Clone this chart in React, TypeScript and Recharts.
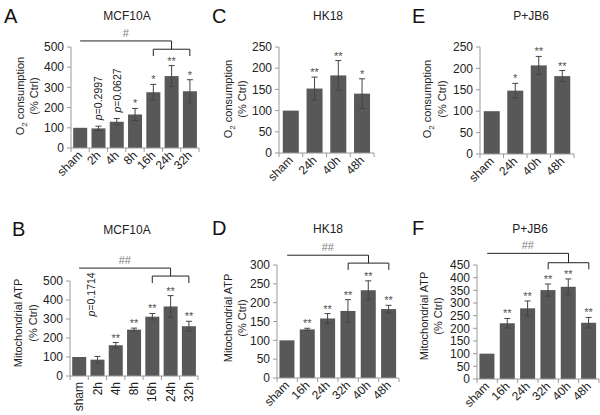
import React from "react"
import { BarChart, Bar, XAxis, YAxis, ErrorBar, ReferenceLine } from "recharts"

// A: MCF10A O2 consumption
const mcfO2Cats = ["sham", "2h", "4h", "8h", "16h", "24h", "32h"]
const mcfO2Vals = [100, 97, 130, 166, 276, 356, 281]
const mcfO2Errs = [0, 11, 16, 30, 39, 52, 57]
const mcfO2Marks = ["", "p=0.2997", "p=0.0627", "*", "*", "**", "*"]

// C: HK18 O2 consumption
const hkO2Cats = ["sham", "24h", "40h", "48h"]
const hkO2Vals = [100, 152, 183, 140]
const hkO2Errs = [0, 27, 35, 35]
const hkO2Marks = ["", "**", "**", "*"]

// E: P+JB6 O2 consumption
const jbO2Cats = ["sham", "24h", "40h", "48h"]
const jbO2Vals = [100, 148, 207, 182]
const jbO2Errs = [0, 17, 21, 13]
const jbO2Marks = ["", "*", "**", "**"]

// B: MCF10A mitochondrial ATP
const mcfAtpCats = ["sham", "2h", "4h", "8h", "16h", "24h", "32h"]
const mcfAtpVals = [100, 86, 162, 244, 312, 366, 262]
const mcfAtpErrs = [0, 17, 14, 8, 17, 57, 26]
const mcfAtpMarks = ["", "p=0.1714", "**", "**", "**", "**", "**"]

// D: HK18 mitochondrial ATP
const hkAtpCats = ["sham", "16h", "24h", "32h", "40h", "48h"]
const hkAtpVals = [100, 129, 158, 178, 233, 183]
const hkAtpErrs = [0, 3, 13, 30, 25, 10]
const hkAtpMarks = ["", "**", "**", "**", "**", "**"]

// F: P+JB6 mitochondrial ATP
const jbAtpCats = ["sham", "16h", "24h", "32h", "40h", "48h"]
const jbAtpVals = [100, 220, 279, 351, 364, 222]
const jbAtpErrs = [0, 19, 29, 24, 31, 21]
const jbAtpMarks = ["", "**", "**", "**", "**", "**"]

const ticks500 = [0, 100, 200, 300, 400, 500]
const ticks250 = [0, 50, 100, 150, 200, 250]
const ticks300 = [0, 50, 100, 150, 200, 250, 300]
const ticks450 = [0, 50, 100, 150, 200, 250, 300, 350, 400, 450]

const BAR = "#585858"
const AXIS = "#9a9a9a"
const FONT = "'Liberation Sans', Arial, sans-serif"

function CatTick(props: any) {
  const { x, y, payload, angle, half, index, visibleTicksCount } = props
  const last = index === visibleTicksCount - 1
  const tr = angle === -90 ? `translate(${x},${y + 6}) rotate(-90)` : `translate(${x},${y + 5}) rotate(-45)`
  return (
    <g>
      <line x1={x - half} x2={x - half} y1={y} y2={y + 4} stroke={AXIS} />
      {last && <line x1={x + half} x2={x + half} y1={y} y2={y + 4} stroke={AXIS} />}
      <g transform={tr}>
        <text textAnchor="end" dy="0.35em" fontSize={12} fill="#222">
          {payload.value}
        </text>
      </g>
    </g>
  )
}

// bar rectangle plus its star / p-value mark above the error bar
const makeBarShape = (pGap: number, pDx: number) => (props: any) => {
  const { x, y, width, height, payload } = props
  const bx = Number(x)
  const by = Number(y)
  const bw = Number(width)
  const bh = Number(height)
  const errPx = payload.v ? (payload.e * bh) / payload.v : 0
  const cx = bx + bw / 2
  const top = by - errPx
  const s = String(payload.m || "")
  let mark = null
  if (s.startsWith("p=")) {
    mark = (
      <g transform={`translate(${cx + 4 + pDx},${top - pGap}) rotate(-90)`}>
        <text x={0} y={0} textAnchor="start" fontSize={10.5} fill="#222">
          <tspan fontStyle="italic">p</tspan>
          {s.slice(1)}
        </text>
      </g>
    )
  } else if (s) {
    mark = (
      <text x={cx} y={top - 1} textAnchor="middle" fontSize={11} fill="#505050">
        {s}
      </text>
    )
  }
  return (
    <g>
      <rect x={bx} y={by} width={bw} height={bh} fill={BAR} />
      {mark}
    </g>
  )
}

function bracketLines(b: any) {
  const s = { stroke: "#222", strokeWidth: 1, ifOverflow: "visible" as const }
  return [
    <ReferenceLine
      key="t"
      segment={[{ x: b.from, y: b.top }, { x: b.mid, y: b.top }]}
      {...s}
      label={{ value: b.mark, position: "top", fill: "#808080", fontSize: 11, offset: 4 }}
    />,
    <ReferenceLine key="j" segment={[{ x: b.mid, y: b.top }, { x: b.mid, y: b.inner }]} {...s} />,
    <ReferenceLine key="h" segment={[{ x: b.left, y: b.inner }, { x: b.right, y: b.inner }]} {...s} />,
    <ReferenceLine key="l" segment={[{ x: b.left, y: b.inner }, { x: b.left, y: b.foot }]} {...s} />,
    <ReferenceLine key="r" segment={[{ x: b.right, y: b.inner }, { x: b.right, y: b.foot }]} {...s} />,
  ]
}

function Panel(p: any) {
  const data = p.cats.map((c: string, i: number) => ({ c, v: p.vals[i], e: p.errs[i], m: p.marks[i] }))
  const plotW = p.width - p.margin.left - p.margin.right - p.yWidth
  const half = plotW / p.cats.length / 2
  return (
    <div style={{ position: "absolute", left: p.left, top: p.top }}>
      <BarChart width={p.width} height={p.height} data={data} margin={p.margin} barCategoryGap={p.gap}>
        <XAxis
          dataKey="c"
          height={p.xHeight}
          interval={0}
          tickLine={false}
          tickSize={0}
          tickMargin={0}
          axisLine={{ stroke: AXIS }}
          tick={<CatTick angle={p.angle} half={half} />}
        />
        <YAxis
          width={p.yWidth}
          domain={[p.ticks[0], p.ticks[p.ticks.length - 1]]}
          ticks={p.ticks}
          interval={0}
          tickSize={4}
          tickMargin={3}
          axisLine={{ stroke: AXIS }}
          tickLine={{ stroke: AXIS }}
          tick={{ fill: "#222", fontSize: 12 }}
        />
        <Bar dataKey="v" fill={BAR} isAnimationActive={false} shape={makeBarShape(p.pGap ?? 6, p.pDx ?? 0)}>
          <ErrorBar dataKey="e" width={3} stroke="#444" strokeWidth={1} />
        </Bar>
        {p.bracket ? bracketLines(p.bracket) : null}
      </BarChart>
    </div>
  )
}

function YTitle({ x1, x2, cy, first }: any) {
  return (
    <g fontSize={11} fill="#222">
      <text transform={`translate(${x1 + 4},${cy}) rotate(-90)`} textAnchor="middle">
        {first === "O2" ? (
          <>
            O<tspan fontSize={8} dy={3}>2</tspan>
            <tspan dy={-3}> consumption</tspan>
          </>
        ) : (
          "Mitochondrial  ATP"
        )}
      </text>
      <text transform={`translate(${x2 + 4},${cy}) rotate(-90)`} textAnchor="middle">
        (% Ctrl)
      </text>
    </g>
  )
}

export default function App() {
  return (
    <div style={{ position: "absolute", left: 0, top: 0, width: 600, height: 415, background: "#fff", fontFamily: FONT }}>
      <Panel
        left={0} top={0} width={200} height={205} margin={{ top: 47, right: 1, bottom: 0, left: 0 }}
        yWidth={71} xHeight={57} gap="12%" angle={-45} ticks={ticks500}
        cats={mcfO2Cats} vals={mcfO2Vals} errs={mcfO2Errs} marks={mcfO2Marks}
        bracket={{ from: "sham", mid: "24h", left: "16h", right: "32h", top: 530, inner: 489, foot: 455, mark: "#" }}
      />
      <Panel
        left={200} top={0} width={175} height={205} margin={{ top: 47, right: 1, bottom: 0, left: 0 }}
        yWidth={79} xHeight={52} gap="16%" angle={-45} ticks={ticks250}
        cats={hkO2Cats} vals={hkO2Vals} errs={hkO2Errs} marks={hkO2Marks}
      />
      <Panel
        left={400} top={0} width={175} height={205} margin={{ top: 47, right: 1, bottom: 0, left: 0 }}
        yWidth={80} xHeight={51} gap="16%" angle={-45} ticks={ticks250}
        cats={jbO2Cats} vals={jbO2Vals} errs={jbO2Errs} marks={jbO2Marks}
      />
      <Panel
        left={0} top={205} width={200} height={210} margin={{ top: 76, right: 2, bottom: 0, left: 0 }}
        yWidth={70} xHeight={39} gap="12%" angle={-90} ticks={ticks500}
        cats={mcfAtpCats} vals={mcfAtpVals} errs={mcfAtpErrs} marks={mcfAtpMarks} pGap={40} pDx={-6}
        bracket={{ from: "sham", mid: "24h", left: "16h", right: "32h", top: 568, inner: 526, foot: 489, mark: "##" }}
      />
      <Panel
        left={200} top={205} width={200} height={210} margin={{ top: 60, right: 1, bottom: 0, left: 0 }}
        yWidth={77} xHeight={37} gap="12%" angle={-45} ticks={ticks300}
        cats={hkAtpCats} vals={hkAtpVals} errs={hkAtpErrs} marks={hkAtpMarks}
        bracket={{ from: "sham", mid: "40h", left: "32h", right: "48h", top: 326, inner: 305, foot: 287, mark: "##" }}
      />
      <Panel
        left={400} top={205} width={200} height={210} margin={{ top: 60, right: 1, bottom: 0, left: 0 }}
        yWidth={77} xHeight={36} gap="12%" angle={-45} ticks={ticks450}
        cats={jbAtpCats} vals={jbAtpVals} errs={jbAtpErrs} marks={jbAtpMarks}
        bracket={{ from: "sham", mid: "40h", left: "32h", right: "48h", top: 496, inner: 459, foot: 433, mark: "##" }}
      />
      <svg width={600} height={415} style={{ position: "absolute", left: 0, top: 0, pointerEvents: "none" }}>
        <g fontSize={20} fill="#111">
          <text x={4} y={23}>A</text>
          <text x={212} y={23}>C</text>
          <text x={412} y={23}>E</text>
          <text x={12} y={236}>B</text>
          <text x={212} y={235}>D</text>
          <text x={412} y={235}>F</text>
        </g>
        <g fontSize={12} fill="#222" textAnchor="middle">
          <text x={127} y={20}>MCF10A</text>
          <text x={328} y={20}>HK18</text>
          <text x={531} y={20}>P+JB6</text>
          <text x={127} y={234}>MCF10A</text>
          <text x={328} y={233}>HK18</text>
          <text x={530} y={233}>P+JB6</text>
        </g>
        <YTitle x1={20} x2={34} cy={96} first="O2" />
        <YTitle x1={228} x2={242} cy={99} first="O2" />
        <YTitle x1={427} x2={442} cy={99} first="O2" />
        <YTitle x1={18} x2={33} cy={323} first="ATP" />
        <YTitle x1={228} x2={242} cy={318} first="ATP" />
        <YTitle x1={424} x2={438} cy={316} first="ATP" />
      </svg>
    </div>
  )
}
